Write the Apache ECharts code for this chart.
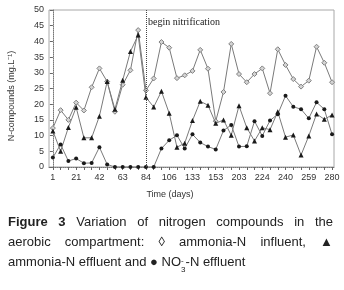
<!DOCTYPE html>
<html>
<head>
<meta charset="utf-8">
<script src="https://cdn.jsdelivr.net/npm/echarts@6/dist/echarts.min.js"></script>
<style>
body { margin: 0; background: #fff; }
#wrap { position: relative; width: 344px; height: 290px; }
#myChart { position: absolute; left: 0; top: 0; width: 344px; height: 290px; }
#caption { position: absolute; left: 8px; top: 212px; width: 325px;
  font-family: "Liberation Sans", Arial, sans-serif; font-size: 13px; line-height: 20px; color: #222; }
#caption .j { text-align: justify; text-align-last: justify; }
#caption b { font-weight: bold; }
.no3 { display: inline-block; font-size: 8px; line-height: 9px; vertical-align: -6px; text-align: left; }
</style>
</head>
<body>
<div id="wrap">
  <div id="myChart"></div>
  <div id="caption">
    <div class="j"><b>Figure 3</b> Variation of nitrogen compounds in the</div>
    <div class="j">aerobic compartment: &#9674; ammonia-N influent, &#9650;</div>
    <div>ammonia-N effluent and &#9679; NO<span class="no3">-<br>3</span>-N effluent</div>
  </div>
</div>
<script>
"use strict";
// 横轴标签 (每3个点一个)
var dayLabels = ['1', '21', '42', '63', '84', '106', '133', '153', '203', '224', '240', '259', '280'];
// ammonia-N influent
var ammoniaIn = [12.4, 18.1, 15, 20.5, 18, 25.4, 31.4, 27.2, 17.6, 26.2, 30.8, 43.6,
    24.4, 28.2, 39.8, 38, 28.3, 29.2, 30.6, 37.3, 31.3, 14.6, 23.9, 39.2, 29.6,
    27, 29.6, 31.4, 23.5, 37.5, 32.5, 28, 25.6, 27.5, 38.3, 33.2, 27];
// ammonia-N effluent
var ammoniaOut = [11.5, 5, 12.6, 19, 9.3, 9.3, 16.2, 27.2, 18.4, 27.6, 36.8, 42,
    22.2, 19.1, 24.1, 17.1, 6.3, 7.6, 14.8, 20.9, 19.7, 13.9, 15, 10.1, 19.5,
    12.5, 8.3, 12.5, 11.9, 17.6, 9.5, 10.2, 3.8, 9.9, 16.9, 15.2, 16.6];
// NO3-N effluent
var nitrate = [3, 7.2, 1.9, 2.7, 1.2, 1.3, 6.3, 0.8, 0, 0, 0, 0,
    0, 0, 5.9, 8.5, 10.1, 5.9, 10.4, 7.8, 6.5, 5.6, 11.6, 13.4, 6.5,
    6.6, 14.6, 9.9, 14.8, 16.8, 22.7, 19.2, 18.4, 15.5, 20.6, 18.4, 10.4];
// begin nitrification 的位置 (day 84)
var startIndex = 12;

function toPoints(arr) {
    var out = [];
    for (var i = 0; i < arr.length; i++) {
        out.push([i, arr[i]]);
    }
    return out;
}

var labelIdx = [];
for (var k = 0; k < dayLabels.length; k++) {
    labelIdx.push(k * 3);
}
var tickIdx = [];
for (var t = 0; t < ammoniaIn.length; t++) {
    tickIdx.push(t);
}

var myChart = echarts.init(document.getElementById('myChart'));
var lineColor = '#7a7a7a';
var fontFam = '"Liberation Sans", Arial, sans-serif';

var option = {
    animation: false,
    grid: {
        left: 49, right: 10, top: 10, bottom: 123,
        show: true, borderColor: '#a8a8a8', borderWidth: 1
    },
    xAxis: {
        type: 'value',
        min: -0.5,
        max: 36.25,
        splitLine: { show: false },
        axisLine: { onZero: false, lineStyle: { color: '#777', type: 'dotted' } },
        axisTick: { show: true, length: 3, customValues: tickIdx, lineStyle: { color: '#666' } },
        axisLabel: {
            customValues: labelIdx,
            margin: 6,
            fontSize: 9,
            fontFamily: fontFam,
            color: '#333',
            formatter: function (v) {
                return dayLabels[Math.round(v / 3)];
            }
        }
    },
    yAxis: {
        type: 'value',
        min: 0,
        max: 50,
        interval: 5,
        splitLine: { show: false },
        axisLine: { show: true, lineStyle: { color: '#777', type: 'dotted' } },
        axisTick: { show: true, length: 3, lineStyle: { color: '#666' } },
        axisLabel: { fontSize: 9, fontFamily: fontFam, color: '#333', margin: 5 }
    },
    graphic: [
        {
            type: 'text', x: 12, y: 96, rotation: Math.PI / 2,
            style: { text: 'N-compounds (mg.L⁻¹)', align: 'center', verticalAlign: 'middle',
                font: '9px ' + fontFam, fill: '#333' }
        },
        {
            type: 'text', x: 170, y: 195,
            style: { text: 'Time (days)', align: 'center', verticalAlign: 'middle',
                font: '9px ' + fontFam, fill: '#333' }
        },
        {
            type: 'text', x: 148, y: 22,
            style: { text: 'begin nitrification', align: 'left', verticalAlign: 'middle',
                font: '10px "Liberation Serif", "Times New Roman", serif', fill: '#222' }
        }
    ],
    series: [
        {
            name: 'ammonia-N influent',
            type: 'line',
            data: toPoints(ammoniaIn),
            symbol: 'diamond',
            symbolSize: 5,
            lineStyle: { color: lineColor, width: 1 },
            itemStyle: { color: '#d4d4d4', borderColor: '#808080', borderWidth: 1 },
            z: 3
        },
        {
            name: 'ammonia-N effluent',
            type: 'line',
            data: toPoints(ammoniaOut),
            symbol: 'triangle',
            symbolSize: 5,
            lineStyle: { color: lineColor, width: 1 },
            itemStyle: { color: '#1a1a1a', borderWidth: 0 },
            z: 4,
            markLine: {
                silent: true,
                symbol: 'none',
                label: { show: false },
                lineStyle: { color: '#444', type: 'dotted', width: 1 },
                data: [{ xAxis: startIndex }]
            }
        },
        {
            name: 'NO3-N effluent',
            type: 'line',
            data: toPoints(nitrate),
            symbol: 'circle',
            symbolSize: 4,
            lineStyle: { color: lineColor, width: 1 },
            itemStyle: { color: '#1a1a1a', borderWidth: 0 },
            z: 4
        }
    ]
};

myChart.setOption(option);
</script>
</body>
</html>
